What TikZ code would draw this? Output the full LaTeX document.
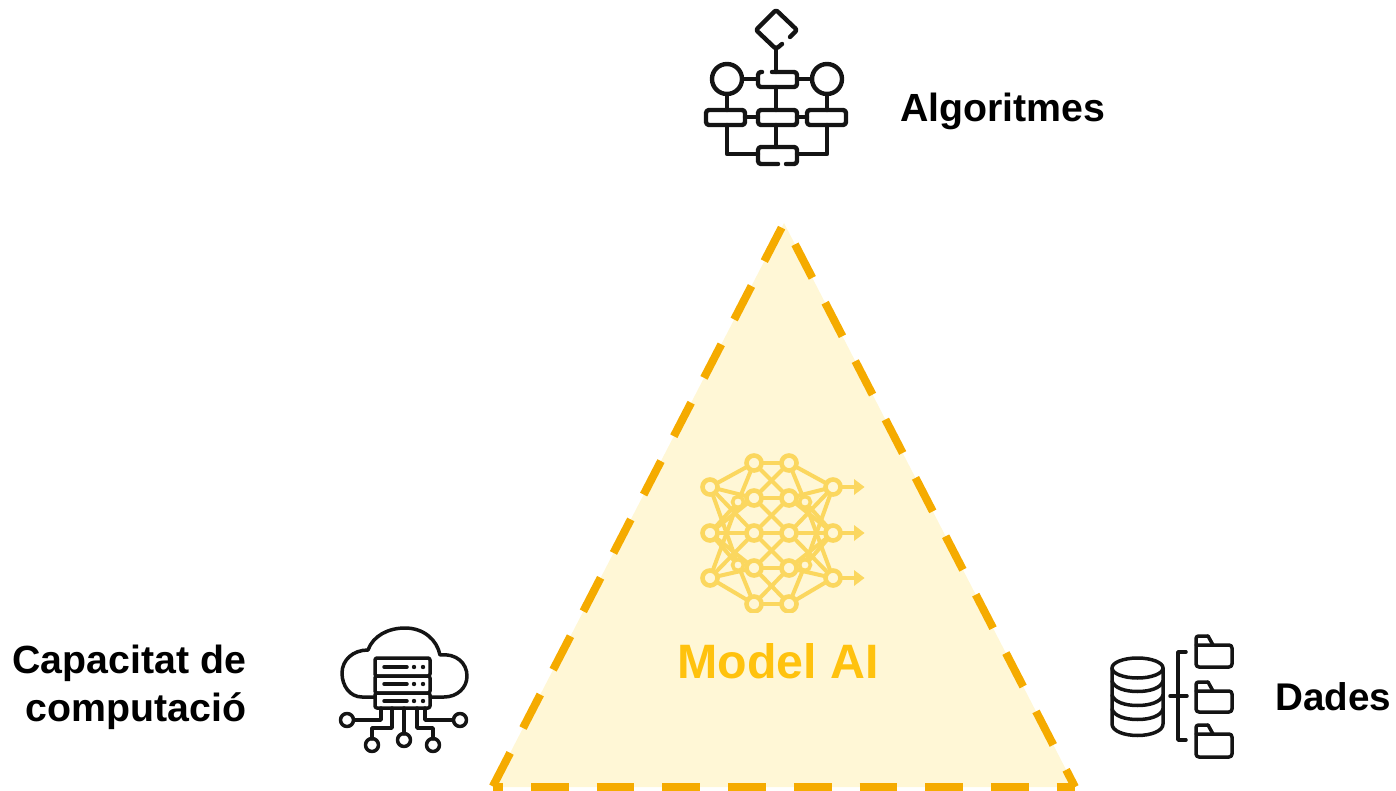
\documentclass[tikz,border=0pt]{standalone}
\usepackage{fontspec}
\setmainfont{Liberation Sans}
\definecolor{dashc}{HTML}{F5AB00}
\definecolor{fillc}{HTML}{FFF7D6}
\definecolor{netc}{HTML}{FBD75F}
\definecolor{modelc}{HTML}{FFC20E}
\definecolor{inkc}{HTML}{141414}
\tikzset{
  lbl/.style={font=\bfseries\fontsize{39.3}{48}\selectfont,text=black,inner sep=0pt,align=right},
  icon/.style={draw=inkc,line width=4.4pt,line join=round,line cap=round},
  thin icon/.style={draw=inkc,line width=3.5pt,line join=round,line cap=round},
  net/.style={draw=netc,line width=4pt},
  netnode/.style={circle,draw=netc,line width=4.6pt,fill=fillc,minimum size=15pt,inner sep=0pt},
  edgedash/.style={draw=dashc,line width=8pt,dash pattern=on 37.7pt off 28pt}
}
\begin{document}
\begin{tikzpicture}[x=1pt,y=-1pt]
\useasboundingbox (0,0) rectangle (1396,791);
\clip (0,0) rectangle (1396,791);
% triangle
\coordinate (apex) at (784,223);
\coordinate (bl) at (492.5,787);
\coordinate (br) at (1075,787);
\fill[fillc] (apex) -- (bl) -- (br) -- cycle;
\draw[edgedash,dash phase=60.5] (apex) -- (bl);
\draw[edgedash,dash phase=41.7] (apex) -- (br);
\draw[edgedash,dash phase=27.2] (bl) -- (br);
% neural net
\foreach \n/\x/\y in {a1/710/487,a2/710/533,a3/710/578,
  b1/754/463,b2/754/498,b3/754/533,b4/754/568,b5/754/604,
  c1/789/463,c2/789/498,c3/789/533,c4/789/568,c5/789/604,
  d1/833/487,d2/833/533,d3/833/578,
  e1/738/502,e2/738/565,f1/805/502,f2/805/565}{\coordinate (\n) at (\x,\y);}
\begin{scope}
\clip (690,453) rectangle (880,612);
\foreach \p/\q in {a1/b1,a1/b2,a1/e2,a1/b3,a2/b2,a2/b3,a2/b4,a2/e1,a2/e2,a3/b5,a3/b4,a3/e1,a3/b3,
  b1/c1,b2/c2,b3/c3,b4/c4,b5/c5,b1/c2,c1/b2,b2/c3,c2/b3,b3/c4,c3/b4,b4/c5,c4/b5,
  d1/c1,d1/c2,d1/f2,d1/c3,d2/c2,d2/c3,d2/c4,d2/f1,d2/f2,d3/c5,d3/c4,d3/f1,d3/c3,
  b1/e1,c1/f1,b5/e2,c5/f2}{\draw[net] (\p) -- (\q);}
\foreach \a in {d1,d2,d3}{
  \draw[net] (\a) -- ++(24,0);
  \fill[netc] (\a) ++(21,-8) -- ++(10.5,8) -- ++(-10.5,8) -- cycle;
}
\foreach \n in {a1,a2,a3,b1,b2,b3,b4,b5,c1,c2,c3,c4,c5,d1,d2,d3}{\node[netnode] at (\n) {};}
\foreach \n in {e1,e2,f1,f2}{\node[netnode,minimum size=11pt,line width=3.6pt] at (\n) {};}
\end{scope}
\node[font=\bfseries\fontsize{48.3}{50}\selectfont,text=modelc,inner sep=0pt] (model) at (778,661) {Model AI};
% algorithms icon
\begin{scope}[icon]
\draw[rounded corners=2pt] (790,37) -- (797,30) -- (776,10) -- (756,30) -- (776,49) -- (782,44);
\draw (776,49) -- (776,72);
\draw[rounded corners=3pt] (762,72) -- (758,72) -- (758,87) -- (797,87) -- (797,72) -- (772,72);
\draw (727,79) circle (15);
\draw (827,79) circle (15);
\draw (742,79) -- (758,79) (797,79) -- (812,79);
\draw[rounded corners=3pt] (706,110) rectangle (745,125);
\draw[rounded corners=3pt] (758,110) rectangle (797,125);
\draw[rounded corners=3pt] (807,110) rectangle (846,125);
\draw (745,117) -- (758,117) (797,117) -- (807,117);
\draw (727,94) -- (727,110) (827,94) -- (827,110) (776,87) -- (776,110) (776,125) -- (776,147);
\draw (727,125) -- (727,154) -- (758,154) (827,125) -- (827,154) -- (797,154);
\draw[rounded corners=3pt] (778,164) -- (758,164) -- (758,147) -- (797,147) -- (797,164) -- (786,164);
\end{scope}
\node[lbl,anchor=west] (algo) at (900,111) {Algoritmes};
% cloud icon
\begin{scope}[thin icon]
\draw (375,697) -- (362,697) .. controls (350,697) and (342,686) .. (342,673)
  .. controls (342,660) and (353,650) .. (368,650)
  .. controls (373,636) and (388,628) .. (405,628)
  .. controls (424,628) and (437,640) .. (440,655)
  .. controls (456,653) and (467,663) .. (467,676)
  .. controls (467,688) and (457,697) .. (444,697) -- (430,697);
\draw[rounded corners=2pt] (375,658) rectangle (430,676);
\draw[rounded corners=2pt] (375,676) rectangle (430,693);
\draw[rounded corners=2pt] (375,693) rectangle (430,708);
\foreach \y in {667,684,701}{
  \draw (384,\y) -- (407,\y);
  \fill[inkc] (414,\y) circle (2.2);
  \fill[inkc] (423,\y) circle (2.2);
}
\draw (381,708) -- (381,720) -- (354,720);
\draw (392,708) -- (392,728) -- (372,728) -- (372,739);
\draw (404,708) -- (404,734);
\draw (417,708) -- (417,728) -- (433,728) -- (433,739);
\draw (425,708) -- (425,720) -- (453,720);
\draw (347,720) circle (6.5);
\draw (372,745) circle (6.5);
\draw (404,740) circle (6.5);
\draw (433,745) circle (6.5);
\draw (460,720) circle (6.5);
\end{scope}
\node[lbl,anchor=east] (cap) at (246.5,687.5) {Capacitat de\\computació};
% database icon
\begin{scope}[thin icon]
\draw (1137.5,668) ellipse (25.5 and 10);
\draw (1112,668) -- (1112,724) .. controls (1112,731) and (1124,735.5) .. (1137.5,735.5)
  .. controls (1151,735.5) and (1163,731) .. (1163,724) -- (1163,668);
\foreach \y in {681,695,709}{
  \draw (1112,\y) .. controls (1114,\y+7) and (1125,\y+10.5) .. (1137.5,\y+10.5)
    .. controls (1150,\y+10.5) and (1161,\y+7) .. (1163,\y);
}
\draw (1186,652) -- (1178,652) -- (1178,740) -- (1186,740);
\draw (1170,696) -- (1187,696);
\foreach \t/\b in {636/667,682/712,725/757}{
  \draw[rounded corners=2.5pt] (1196,\t+9) -- (1196,\t) -- (1208,\t);
  \draw (1208,\t) -- (1213,\t+9);
  \draw[rounded corners=3pt] (1196,\t+9) -- (1196,\b) -- (1232,\b) -- (1232,\t+9) -- (1196,\t+9);
}
\end{scope}
\node[lbl,anchor=west,font=\bfseries\fontsize{38.6}{48}\selectfont] (dades) at (1275,697) {Dades};
\end{tikzpicture}
\end{document}
